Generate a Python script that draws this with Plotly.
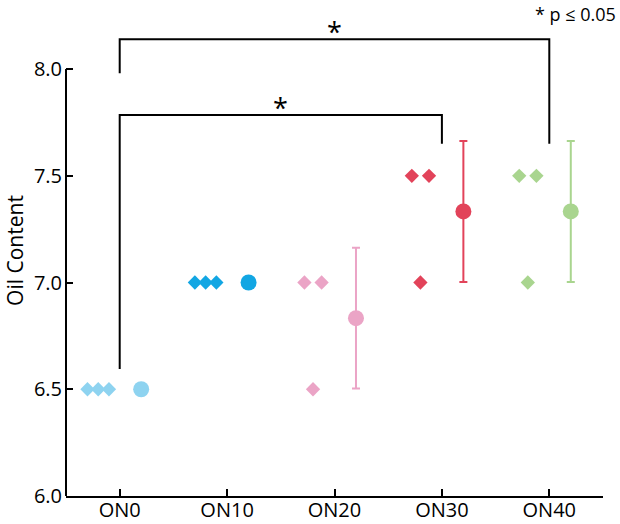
import plotly.graph_objects as go

categories = ["ON0", "ON10", "ON20", "ON30", "ON40"]
colors = ["#8ED3F0", "#12A6E3", "#EBA4C6", "#E2435A", "#A9D58F"]
# individual observations per group
obs_values = [
    [6.5, 6.5, 6.5],
    [7.0, 7.0, 7.0],
    [7.0, 7.0, 6.5],
    [7.5, 7.5, 7.0],
    [7.5, 7.5, 7.0],
]
# swarm offsets of the observations (category units)
obs_offsets = [
    [-0.3, -0.2, -0.1],
    [-0.3, -0.2, -0.1],
    [-0.28, -0.12, -0.2],
    [-0.28, -0.12, -0.2],
    [-0.28, -0.12, -0.2],
]
means = [6.5, 7.0, 6.833, 7.333, 7.333]
errors = [0.0, 0.0, 0.33, 0.33, 0.33]
mean_offset = 0.2

# significance brackets: (group a, group b, bar height, leg a bottom, leg b bottom)
brackets = [
    (0, 3, 7.785, 6.595, 7.65),
    (0, 4, 8.14, 7.98, 7.65),
]

FONT = "Open Sans"
fig = go.Figure()

for i, cat in enumerate(categories):
    fig.add_trace(go.Scatter(
        x=[i + o for o in obs_offsets[i]], y=obs_values[i], mode="markers",
        marker=dict(symbol="diamond", size=11, color=colors[i], line=dict(width=0)),
        showlegend=False, hoverinfo="skip"))
    fig.add_trace(go.Scatter(
        x=[i + mean_offset], y=[means[i]], mode="markers",
        marker=dict(symbol="circle", size=16, color=colors[i], line=dict(width=0)),
        error_y=dict(type="data", array=[errors[i]], visible=errors[i] > 0,
                     color=colors[i], thickness=2, width=4),
        showlegend=False))

# y axis line from 6.0 to 8.0 only
fig.add_shape(type="line", xref="x domain", yref="y", x0=0, x1=0, y0=6.0, y1=8.0,
              line=dict(color="black", width=2))

for a, b, h, la, lb in brackets:
    fig.add_shape(type="path", xref="x", yref="y",
                  path=f"M {a},{la} L {a},{h} L {b},{h} L {b},{lb}",
                  line=dict(color="black", width=2))
    fig.add_annotation(x=(a + b) / 2, y=h, xref="x", yref="y", text="*",
                       showarrow=False, yanchor="bottom", yshift=-13,
                       font=dict(family=FONT, size=27, color="black"))

fig.add_annotation(x=1, y=1, xref="paper", yref="paper", text="* p ≤ 0.05",
                   showarrow=False, xanchor="right", yanchor="top", xshift=15, yshift=5,
                   font=dict(family=FONT, size=18, color="black"))

fig.update_layout(
    width=620, height=524,
    margin=dict(l=66, r=17, t=5, b=28),
    paper_bgcolor="white", plot_bgcolor="white",
    font=dict(family=FONT, size=20, color="black"),
    xaxis=dict(range=[-0.5, 4.5], tickvals=list(range(len(categories))),
               ticktext=categories, showline=True, linecolor="black", linewidth=2,
               ticks="inside", ticklen=7, tickwidth=2, tickcolor="black",
               showgrid=False, zeroline=False, tickfont=dict(size=20),
               automargin=False, ticklabelstandoff=-5),
    yaxis=dict(range=[6.0, 8.3], tickvals=[6.0, 6.5, 7.0, 7.5, 8.0],
               ticktext=["6.0", "6.5", "7.0", "7.5", "8.0"],
               showline=False, ticks="inside", ticklen=7, tickwidth=2,
               tickcolor="black", showgrid=False, zeroline=False,
               tickfont=dict(size=20), automargin=False, ticklabelstandoff=3,
               title=dict(text="Oil Content", font=dict(size=21), standoff=4)),
)

fig.write_html("out.html")
